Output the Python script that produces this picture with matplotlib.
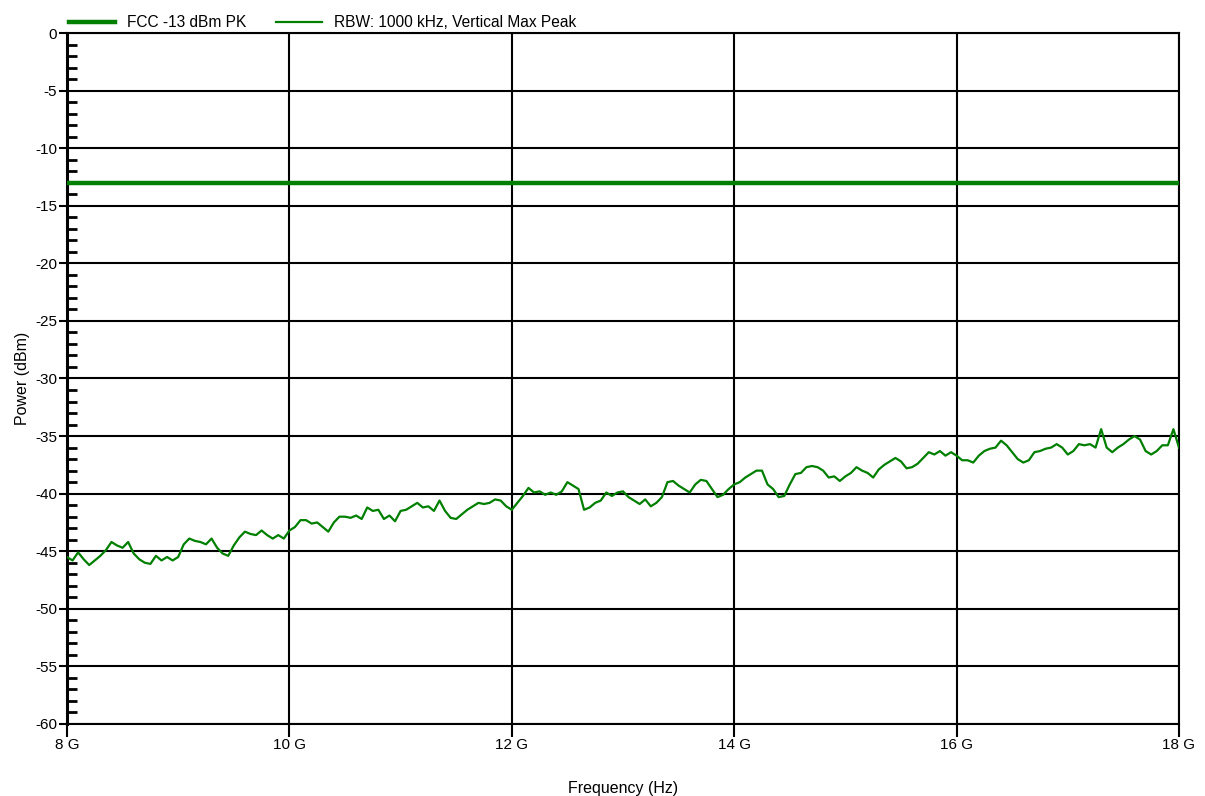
import numpy as np
import matplotlib
matplotlib.use('Agg')
import matplotlib.pyplot as plt
from matplotlib.ticker import MultipleLocator, FuncFormatter

plt.rcParams['font.family'] = ['Liberation Sans', 'DejaVu Sans']

LIMIT_DBM = -13
LIMIT_LABEL = 'FCC -13 dBm PK'
TRACE_LABEL = 'RBW: 1000 kHz, Vertical Max Peak'

# trace every 50 MHz from 8 GHz to 18 GHz
freq_ghz = np.linspace(8, 18, 201)
power_dbm = [
    -45.5, -45.8, -45.1, -45.7, -46.2, -45.8, -45.4, -44.9, -44.2, -44.5,
    -44.7, -44.2, -45.2, -45.7, -46.0, -46.1, -45.4, -45.8, -45.5, -45.8,
    -45.5, -44.4, -43.9, -44.1, -44.2, -44.4, -43.9, -44.7, -45.2, -45.4,
    -44.5, -43.8, -43.3, -43.5, -43.6, -43.2, -43.6, -43.9, -43.6, -43.9,
    -43.2, -42.9, -42.3, -42.3, -42.6, -42.5, -42.9, -43.3, -42.5, -42.0,
    -42.0, -42.1, -41.9, -42.2, -41.2, -41.5, -41.4, -42.2, -41.9, -42.4,
    -41.5, -41.4, -41.1, -40.8, -41.2, -41.1, -41.5, -40.6, -41.5, -42.1,
    -42.2, -41.8, -41.4, -41.1, -40.8, -40.9, -40.8, -40.5, -40.6, -41.1,
    -41.4, -40.8, -40.2, -39.5, -39.9, -39.8, -40.1, -39.9, -40.1, -39.8,
    -39.0, -39.3, -39.6, -41.4, -41.2, -40.8, -40.6, -39.9, -40.2, -39.9,
    -39.8, -40.3, -40.6, -40.9, -40.5, -41.1, -40.8, -40.3, -39.0, -38.9,
    -39.3, -39.6, -39.9, -39.2, -38.8, -38.9, -39.6, -40.3, -40.1, -39.6,
    -39.2, -39.0, -38.6, -38.3, -38.0, -38.0, -39.2, -39.6, -40.3, -40.2,
    -39.2, -38.3, -38.2, -37.7, -37.6, -37.7, -38.0, -38.6, -38.5, -38.9,
    -38.5, -38.2, -37.7, -38.0, -38.2, -38.6, -37.9, -37.5, -37.2, -36.9,
    -37.2, -37.8, -37.7, -37.4, -36.9, -36.4, -36.6, -36.3, -36.7, -36.4,
    -36.7, -37.1, -37.1, -37.3, -36.7, -36.3, -36.1, -36.0, -35.4, -35.8,
    -36.4, -37.0, -37.3, -37.1, -36.4, -36.3, -36.1, -36.0, -35.7, -36.0,
    -36.6, -36.3, -35.7, -35.8, -35.7, -36.0, -34.4, -36.0, -36.4, -36.0,
    -35.7, -35.3, -35.0, -35.3, -36.3, -36.6, -36.3, -35.8, -35.8, -34.4,
    -36.0,
]

green = '#007f00'

fig = plt.figure(figsize=(12.05, 7.96), dpi=100)
ax = fig.add_axes([0.0556, 0.0905, 0.9228, 0.868])

freq_hz = freq_ghz * 1e9
ax.axhline(LIMIT_DBM, color=green, lw=3.2, label=LIMIT_LABEL, zorder=3)
ax.plot(freq_hz, power_dbm, color=green, lw=1.6, label=TRACE_LABEL, zorder=3)

ax.set_xlim(8e9, 18e9)
ax.set_ylim(-60, 0)
ax.xaxis.set_major_locator(MultipleLocator(2e9))
ax.xaxis.set_major_formatter(FuncFormatter(lambda v, p: '%d G' % round(v / 1e9)))
ax.yaxis.set_major_locator(MultipleLocator(5))
ax.yaxis.set_minor_locator(MultipleLocator(1))
ax.yaxis.set_major_formatter(FuncFormatter(lambda v, p: '%d' % v))

ax.grid(True, which='major', color='black', lw=1.5)
for s in ax.spines.values():
    s.set_color('black')
    s.set_linewidth(1.5)
ax.spines['left'].set_linewidth(2.2)

ax.tick_params(axis='y', which='major', direction='out', length=6, width=1.5,
               labelsize=11, pad=1)
ax.tick_params(axis='y', which='minor', direction='in', length=7, width=2)
ax.tick_params(axis='x', which='major', direction='out', length=9, width=1.5,
               labelsize=11, pad=1)

ax.set_xlabel('Frequency (Hz)', fontsize=11.5, labelpad=21)
ax.set_ylabel('Power (dBm)', fontsize=11.5, labelpad=4)

fig.legend(loc='lower left', bbox_to_anchor=(0.057, 0.962), ncol=2,
           frameon=False, fontsize=11.2, handlelength=3.0, handletextpad=0.75,
           columnspacing=1.9, borderaxespad=0, borderpad=0)

fig.savefig('out.png', dpi=100)
